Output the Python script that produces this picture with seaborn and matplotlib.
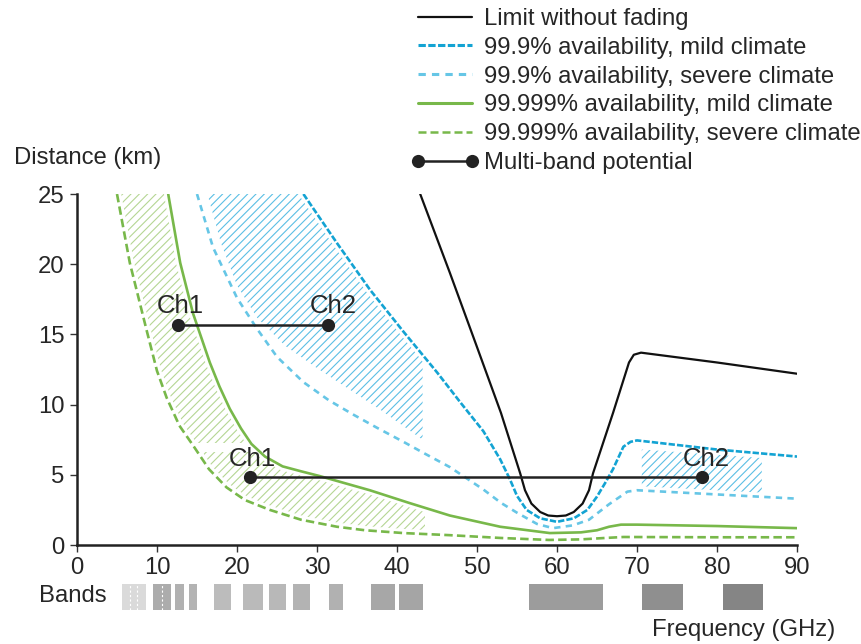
import numpy as np
import seaborn as sns
import matplotlib.pyplot as plt
from matplotlib.lines import Line2D

# Curves (frequency in GHz, distance in km)
limit_x = [42.9, 46.6, 50, 53, 55.4, 56, 56.8, 57.9, 58.9, 60, 61.1, 62.1, 63.2, 64, 64.5, 67, 69, 69.6, 70.5, 80, 90]
limit_y = [25, 19.4, 14.1, 9.4, 5.1, 3.9, 2.95, 2.35, 2.1, 2.05, 2.1, 2.35, 2.95, 3.9, 5.1, 9.4, 13.0, 13.55, 13.7, 13.0, 12.2]

mild_999_x = [28.3, 32.5, 36.6, 40.8, 45, 48, 50.8, 52.9, 54.1, 55, 56.2, 57.9, 60, 62.1, 63.8, 65, 66, 67, 68.3, 69.2, 70, 80, 90]
mild_999_y = [25, 21.5, 18.2, 15.2, 12.3, 10.1, 8.1, 6.1, 4.7, 3.5, 2.5, 1.9, 1.65, 1.9, 2.5, 3.45, 4.4, 5.4, 7.0, 7.35, 7.45, 6.8, 6.3]

severe_999_x = [15, 17, 20, 22.5, 25, 28.3, 31.5, 34.5, 37.5, 40.8, 43.5, 46.6, 50.8, 53, 55, 57.5, 59.5, 62, 64, 66.5, 68.8, 70, 80, 90]
severe_999_y = [25, 21.2, 17.6, 15.4, 13.4, 11.6, 10.3, 9.3, 8.35, 7.35, 6.5, 5.55, 3.95, 3.0, 2.3, 1.5, 1.2, 1.4, 1.8, 2.9, 3.8, 3.9, 3.6, 3.3]

mild_99999_x = [11.4, 12.9, 14.5, 16.6, 17.8, 19.1, 20.5, 21.8, 23.5, 25.7, 28, 30.4, 33.5, 36.6, 41.5, 46.6, 52.9, 59.1, 63, 65, 66.5, 68, 70, 80, 90]
mild_99999_y = [25, 20.1, 16.5, 13.0, 11.3, 9.7, 8.3, 7.2, 6.3, 5.6, 5.25, 4.9, 4.4, 3.9, 3.0, 2.1, 1.3, 0.85, 0.9, 1.05, 1.3, 1.45, 1.45, 1.35, 1.2]

severe_99999_x = [5, 6.6, 8.7, 10, 11.2, 12.8, 14.5, 16.5, 18.7, 21, 24.1, 28, 32.5, 36, 40.8, 46.6, 53, 59, 63, 66, 68.3, 80, 90]
severe_99999_y = [25, 20.1, 15.3, 12.4, 10.5, 8.5, 7.1, 5.4, 4.1, 3.2, 2.5, 1.8, 1.3, 1.05, 0.85, 0.7, 0.5, 0.36, 0.4, 0.5, 0.57, 0.55, 0.55]

# blue hatched area: its lower edge keeps clear of the severe curve
blue_hatch_lo_x = [16.3, 18, 20, 22.5, 26, 30, 34, 38, 43.2]
blue_hatch_lo_y = [25, 21.5, 18.5, 16.2, 14.2, 12.6, 11.1, 9.6, 7.5]
blue_cut, blue_cut_hi = 43.2, 13.4
green_cut, green_cut_lo, green_cut_hi = 43.5, 0.8, 2.5
ch2_box_x = [70.6, 85.6]
ch2_box_lo = [4.1, 3.7]
ch2_box_hi = [6.8, 6.2]
green_gap_x = [13.5, 24.5]
green_gap_y = [6.6, 7.3]

# multi-band links
ch_upper_x = [12.6, 31.4]
ch_upper_y = [15.7, 15.7]
ch_lower_x = [21.6, 78.1]
ch_lower_y = [4.85, 4.85]

# bands (GHz)
band_start = [5.6, 9.5, 12.25, 14.0, 17.1, 20.8, 24.0, 27.0, 31.5, 36.75, 40.25, 56.5, 70.6, 80.7]
band_end = [8.6, 11.7, 13.4, 15.0, 19.3, 23.2, 26.1, 29.1, 33.2, 39.75, 43.3, 65.7, 75.7, 85.8]
band_color = ['#dadada', '#acacac', '#b1b1b1', '#b3b3b3', '#bcbcbc', '#bababa', '#b8b8b8',
              '#b3b3b3', '#b1b1b1', '#a7a7a7', '#a5a5a5', '#9c9c9c', '#8f8f8f', '#858585']
band_splits = [6.6, 7.5, 10.6]

C_BLACK = '#111111'
C_BLUE = '#13a3d3'
C_LBLUE = '#66c6e6'
C_GREEN = '#78b84a'
C_HBLUE = '#5bbfe5'
C_HGREEN = '#b5d694'
C_LINK = '#222222'

sns.set_style('ticks')
plt.rcParams['font.family'] = ['Liberation Sans', 'DejaVu Sans']
plt.rcParams['hatch.linewidth'] = 0.8
FS = 17.2

fig = plt.figure(figsize=(8.61, 6.44), dpi=100)
ax = fig.add_axes([77 / 861, 99 / 644, 720 / 861, 351 / 644])

# green hatch: between the two green curves, cut at green_cut
sx, sy = np.asarray(severe_99999_x), np.asarray(severe_99999_y)
mx, my = np.asarray(mild_99999_x), np.asarray(mild_99999_y)
gx = np.concatenate([sx[sx < green_cut], [green_cut, green_cut], mx[mx < green_cut][::-1]])
gy = np.concatenate([sy[sx < green_cut], [green_cut_lo, green_cut_hi], my[mx < green_cut][::-1]])
ax.fill(gx, gy, facecolor='none', edgecolor=C_HGREEN, hatch='////', linewidth=0)
ax.fill_between(green_gap_x, green_gap_y[0], green_gap_y[1], color='white', linewidth=0)

# blue hatch: under the mild 99.9% curve, above its own lower edge
bmx, bmy = np.asarray(mild_999_x), np.asarray(mild_999_y)
bx = np.concatenate([blue_hatch_lo_x, [blue_cut], bmx[bmx < blue_cut][::-1]])
by = np.concatenate([blue_hatch_lo_y, [blue_cut_hi], bmy[bmx < blue_cut][::-1]])
ax.fill(bx, by, facecolor='none', edgecolor=C_HBLUE, hatch='////', linewidth=0)
ax.fill_between(ch2_box_x, ch2_box_lo, ch2_box_hi, facecolor='none', edgecolor=C_HBLUE, hatch='////', linewidth=0)

curves = [
    (limit_x, limit_y, C_BLACK, 1.6, '-'),
    (mild_999_x, mild_999_y, C_BLUE, 1.9, (0, (2.4, 0.8))),
    (severe_999_x, severe_999_y, C_LBLUE, 1.9, (0, (2.4, 2.0))),
    (mild_99999_x, mild_99999_y, C_GREEN, 1.9, '-'),
    (severe_99999_x, severe_99999_y, C_GREEN, 1.9, (0, (3.2, 1.6))),
]

# white halo keeps the hatching off the curves
for x, y, c, lw, ls in curves[1:]:
    sns.lineplot(x=x, y=y, ax=ax, color='white', lw=6, sort=False)
for x, y, c, lw, ls in curves:
    sns.lineplot(x=x, y=y, ax=ax, color=c, lw=lw, linestyle=ls, sort=False)

for xs, ys in [(ch_upper_x, ch_upper_y), (ch_lower_x, ch_lower_y)]:
    sns.lineplot(x=xs, y=ys, ax=ax, color=C_LINK, lw=1.8, marker='o', markersize=9.5,
                 markeredgewidth=0, sort=False)
    ax.text(xs[0] + 0.3, ys[0] + 1.3, 'Ch1', fontsize=18.5, ha='center', va='center')
    ax.text(xs[1] + 0.6, ys[1] + 1.3, 'Ch2', fontsize=18.5, ha='center', va='center')

ax.set_xlim(0, 90)
ax.set_ylim(0, 25)
ax.set_xticks(range(0, 91, 10))
ax.set_yticks(range(0, 26, 5))
ax.set_xlabel('')
ax.set_ylabel('')
sns.despine(ax=ax)
for s in ['left', 'bottom']:
    ax.spines[s].set_linewidth(1.8)
    ax.spines[s].set_color('#222222')
ax.tick_params(labelsize=FS, length=5, width=1, color='#333333', pad=4)

# band strip under the axis
axb = fig.add_axes([77 / 861, 34 / 644, 720 / 861, 26 / 644])
widths = [e - s for s, e in zip(band_start, band_end)]
axb.bar(band_start, [1] * len(band_start), width=widths, align='edge', color=band_color, linewidth=0)
axb.vlines(band_splits, 0, 1, colors='white', linestyles=(0, (2, 2)), lw=0.8)
axb.set_xlim(0, 90)
axb.set_ylim(0, 1)
axb.axis('off')

fig.text(14 / 861, 1 - 158 / 644, 'Distance (km)', fontsize=FS, ha='left', va='center')
fig.text(107 / 861, 1 - 596 / 644, 'Bands', fontsize=FS, ha='right', va='center')
fig.text(835 / 861, 1 - 630 / 644, 'Frequency (GHz)', fontsize=FS, ha='right', va='center')

handles = [
    Line2D([], [], color=C_BLACK, lw=1.6),
    Line2D([], [], color=C_BLUE, lw=2.2, ls=(0, (2.4, 0.8))),
    Line2D([], [], color=C_LBLUE, lw=2.2, ls=(0, (2.4, 2.0))),
    Line2D([], [], color=C_GREEN, lw=2.2),
    Line2D([], [], color=C_GREEN, lw=1.8, ls=(0, (3.2, 1.6))),
    Line2D([], [], color=C_LINK, lw=1.8, marker='o', markersize=9.5, markeredgewidth=0),
]
labels = ['Limit without fading',
          '99.9% availability, mild climate',
          '99.9% availability, severe climate',
          '99.999% availability, mild climate',
          '99.999% availability, severe climate',
          'Multi-band potential']
fig.legend(handles, labels, loc='upper left', bbox_to_anchor=(411 / 861, 1 - 8 / 644),
           frameon=False, fontsize=FS, handlelength=2.85, handletextpad=0.22,
           labelspacing=0.285, borderpad=0, borderaxespad=0, numpoints=2)

fig.savefig('out.png', dpi=100)
